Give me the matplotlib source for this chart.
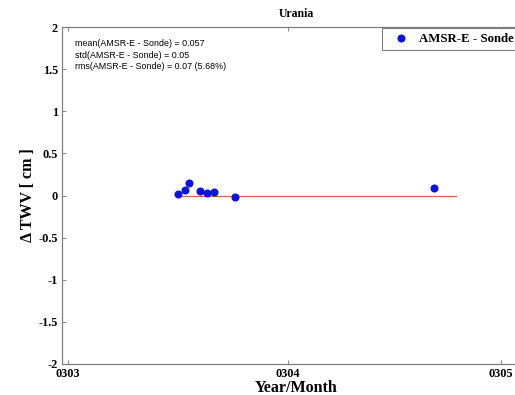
import matplotlib
matplotlib.use("Agg")
import matplotlib.pyplot as plt
import matplotlib.dates as mdates
import pandas as pd

# Data
dates = ["2003-03-16 12:00", "2003-03-17 12:00", "2003-03-18 02:00", "2003-03-19 14:00",
         "2003-03-20 14:00", "2003-03-21 14:00", "2003-03-24 14:00", "2003-04-21 12:00"]
diff = [0.02, 0.067, 0.15, 0.05, 0.03, 0.04, -0.02, 0.086]
zero_span = ["2003-03-16 07:00", "2003-04-24 14:00"]
tick_dates = ["2003-03-01", "2003-04-01", "2003-05-01"]
stats_text = ["mean(AMSR-E - Sonde) = 0.057",
              "std(AMSR-E - Sonde) = 0.05",
              "rms(AMSR-E - Sonde) = 0.07 (5.68%)"]
title = "Urania"
series_label = "AMSR-E - Sonde"

x = pd.to_datetime(dates)
zx = pd.to_datetime(zero_span)

W, H = 515, 395
fig = plt.figure(figsize=(W / 100, H / 100), dpi=100)
left, right, top, bottom = 62, 530, 27, 364
ax = fig.add_axes([left / W, (H - bottom) / H, (right - left) / W, (bottom - top) / H])

serif = ["Liberation Serif", "DejaVu Serif"]

ax.plot(zx, [0, 0], color="#e0603a", lw=0.9, zorder=1)
ax.plot(x, diff, "o", color="#0a14d8", ms=4.8, label=series_label, zorder=2, linestyle="none")

ax.set_xlim(pd.Timestamp("2003-02-28 03:36"), pd.Timestamp("2003-05-05 01:40"))
ax.set_ylim(-2, 2)
ax.set_yticks([-2, -1.5, -1, -0.5, 0, 0.5, 1, 1.5, 2])
ax.set_yticklabels(["-2", "-1.5", "-1", "-0.5", "0", "0.5", "1", "1.5", "2"])
ax.set_xticks(pd.to_datetime(tick_dates))
ax.xaxis.set_major_formatter(mdates.DateFormatter("%y%m"))

for lab in ax.get_xticklabels() + ax.get_yticklabels():
    lab.set_fontfamily(serif)
    lab.set_fontweight("bold")
    lab.set_fontsize(8.8)

ax.tick_params(direction="in", length=3, width=0.6, color="#707070", top=True, right=True)
ax.tick_params(axis="x", pad=3)
ax.tick_params(axis="y", pad=3)
for s in ax.spines.values():
    s.set_color("#808080")
    s.set_linewidth(0.9)

ax.set_title(title, family=serif, fontweight="bold", fontsize=8.5, pad=7)
ax.set_xlabel("Year/Month", family=serif, fontweight="bold", fontsize=11.5, labelpad=0)
ax.set_ylabel("\u0394 TWV [ cm ]", family=serif, fontweight="bold", fontsize=11.5, labelpad=2)

for i, t in enumerate(stats_text):
    ax.text(75 / W, 1 - (44 + i * 11.2) / H, t, transform=fig.transFigure,
            family=["Liberation Sans", "DejaVu Sans"], fontsize=6.4, va="center", ha="left")

leg = ax.legend(loc="upper left", bbox_to_anchor=((382 - left) / (right - left), 0.997),
                prop={"family": serif, "weight": "bold", "size": 9.2},
                fancybox=False, frameon=True, borderpad=0.4, handletextpad=0.3,
                handlelength=2.2, borderaxespad=0)
leg.get_frame().set_edgecolor("#606060")
leg.get_frame().set_linewidth(0.8)

fig.savefig("out.png", dpi=100)
